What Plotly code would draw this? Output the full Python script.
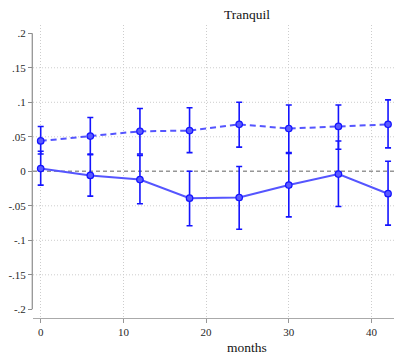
import plotly.graph_objects as go

months = [0, 6, 12, 18, 24, 30, 36, 42]

dashed_est = [0.044, 0.051, 0.058, 0.059, 0.068, 0.062, 0.065, 0.068]
dashed_hi = [0.065, 0.078, 0.091, 0.092, 0.100, 0.096, 0.096, 0.1035]
dashed_lo = [0.025, 0.025, 0.025, 0.027, 0.035, 0.027, 0.032, 0.034]

solid_est = [0.004, -0.006, -0.012, -0.039, -0.038, -0.020, -0.004, -0.0325]
solid_hi = [0.029, 0.024, 0.023, 0.000, 0.007, 0.026, 0.044, 0.0146]
solid_lo = [-0.020, -0.036, -0.047, -0.079, -0.084, -0.066, -0.051, -0.078]

y_ticks = [-0.2, -0.15, -0.1, -0.05, 0, 0.05, 0.1, 0.15, 0.2]
y_labels = ["-.2", "-.15", "-.1", "-.05", "0", ".05", ".1", ".15", ".2"]
y_grid = [-0.15, -0.1, -0.05, 0.05, 0.1, 0.15]
x_ticks = [0, 10, 20, 30, 40]

LINE = "rgb(85,85,255)"
BAR = "rgb(20,20,255)"
FONT = "Liberation Serif"
GRID = "rgb(205,205,205)"

fig = go.Figure()

def add_series(est, hi, lo, dash):
    fig.add_trace(go.Scatter(
        x=months, y=est, mode="lines+markers",
        line=dict(color=LINE, width=2, dash=dash),
        marker=dict(symbol="circle", size=6.5, color="rgb(90,90,255)",
                    line=dict(color=BAR, width=1.2)),
        error_y=dict(type="data", symmetric=False,
                     array=[h - e for h, e in zip(hi, est)],
                     arrayminus=[e - l for e, l in zip(est, lo)],
                     color=BAR, thickness=1.6, width=3),
        showlegend=False, cliponaxis=False,
    ))

# grid + zero line
for g in y_grid:
    fig.add_shape(type="line", xref="paper", yref="y", x0=0, x1=1, y0=g, y1=g,
                  line=dict(color=GRID, width=1, dash="1px,2px"), layer="below")
fig.add_shape(type="line", xref="paper", yref="y", x0=0, x1=1, y0=0, y1=0,
              line=dict(color="rgb(150,150,150)", width=1.6, dash="4px,3px"), layer="below")
# y axis line (spans tick range)
fig.add_shape(type="line", xref="paper", yref="y", x0=-0.002, x1=-0.002, y0=-0.2, y1=0.2,
              line=dict(color="rgb(140,140,140)", width=1.2))

add_series(dashed_est, dashed_hi, dashed_lo, "6px,4px")
add_series(solid_est, solid_hi, solid_lo, "solid")

fig.update_layout(
    width=394, height=354,
    margin=dict(l=33, r=0, t=25, b=36),
    paper_bgcolor="white", plot_bgcolor="white",
    font=dict(family=FONT, size=11, color="rgb(40,40,40)"),
    xaxis=dict(range=[-0.93, 42.72], tickvals=x_ticks, ticktext=[str(v) for v in x_ticks],
               showgrid=True, gridcolor=GRID, griddash="1px,2px", gridwidth=1,
               zeroline=False, showline=True, linecolor="rgb(170,170,170)", linewidth=1.2,
               ticks="outside", ticklen=4, tickcolor="rgb(150,150,150)",
               tickfont=dict(family=FONT, size=11)),
    yaxis=dict(range=[-0.2126, 0.2120], tickvals=y_ticks, ticktext=y_labels,
               showgrid=False, zeroline=False, showline=False,
               ticks="outside", ticklen=4, tickcolor="rgb(140,140,140)",
               tickfont=dict(family=FONT, size=11)),
    annotations=[
        dict(text="Tranquil", xref="paper", yref="paper",
             x=(247 - 33) / 361, y=1, yshift=20, showarrow=False,
             font=dict(family=FONT, size=13.5, color="rgb(20,20,20)")),
        dict(text="months", xref="paper", yref="paper",
             x=(247 - 33) / 361, y=0, yshift=-39, showarrow=False,
             font=dict(family=FONT, size=13.5, color="rgb(20,20,20)")),
    ],
)

fig.write_html("out.html")
